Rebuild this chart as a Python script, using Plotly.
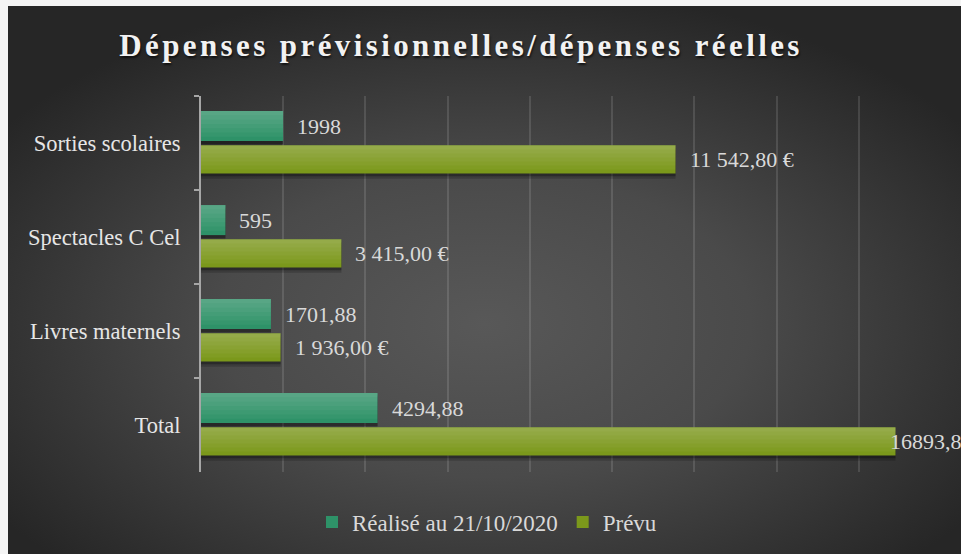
import base64
import plotly.graph_objects as go

# ---------------- data ----------------
categories = ["Sorties scolaires", "Spectacles C Cel", "Livres maternels", "Total"]
realise = [1998, 595, 1701.88, 4294.88]
prevu = [11542.8, 3415.0, 1936.0, 16893.8]
realise_labels = ["1998", "595", "1701,88", "4294,88"]
prevu_labels = ["11 542,80 €", "3 415,00 €", "1 936,00 €", "16893,8"]
series_names = ["Réalisé au 21/10/2020", "Prévu"]
title_text = "Dépenses prévisionnelles/dépenses réelles"

# ---------------- style ----------------
W, H = 961, 554
L, R, T, B = 201, 20, 96, 82
PW, PH = W - L - R, H - T - B
FONT = "Liberation Serif, 'Times New Roman', serif"

styles = [
    dict(color="#2E9268", off=-0.34, w=0.32, lab_shift=12),
    dict(color="#7B981B", off=0.025, w=0.30, lab_shift=12),
]
values = [realise, prevu]
labels = [realise_labels, prevu_labels]

fig = go.Figure()

# soft shadows (two layers)
for vals, st in zip(values, styles):
    for d, a in ((0.055, 0.18), (0.03, 0.28)):
        fig.add_trace(go.Bar(
            y=categories, x=vals, orientation="h",
            offset=st["off"] + d, width=st["w"],
            marker=dict(color=f"rgba(0,0,0,{a})", line=dict(width=0)),
            showlegend=False, hoverinfo="skip"))

# main bars
for vals, st, name in zip(values, styles, series_names):
    fig.add_trace(go.Bar(
        y=categories, x=vals, orientation="h", name=name,
        offset=st["off"], width=st["w"],
        marker=dict(color=st["color"], line=dict(width=0)),
        hoverinfo="skip"))

# gradient highlights (stacked translucent layers from top)
for vals, st in zip(values, styles):
    for j in range(1, 7):
        frac = 1 - j / 7
        fig.add_trace(go.Bar(
            y=categories, x=vals, orientation="h",
            offset=st["off"], width=st["w"] * frac,
            marker=dict(color="rgba(255,255,255,0.04)", line=dict(width=0)),
            showlegend=False, hoverinfo="skip"))

# value labels
annotations = []
for vals, labs, st in zip(values, labels, styles):
    for i, (v, lab) in enumerate(zip(vals, labs)):
        shift = st["lab_shift"]
        if v > 16000:
            shift = -8
        annotations.append(dict(
            x=v, y=i + st["off"] + st["w"] / 2, xref="x", yref="y",
            text=lab, showarrow=False, xanchor="left", yanchor="middle",
            xshift=shift, font=dict(family=FONT, size=22, color="#d9d9d9")))

# background radial gradient
svg = ('<svg xmlns="http://www.w3.org/2000/svg" width="953" height="548" '
       'viewBox="0 0 953 548" preserveAspectRatio="none"><defs>'
       '<radialGradient id="g" cx="0.5" cy="0.58" r="0.62">'
       '<stop offset="0" stop-color="#585858"/>'
       '<stop offset="0.45" stop-color="#4a4a4a"/>'
       '<stop offset="1" stop-color="#262626"/>'
       '</radialGradient></defs>'
       '<rect width="953" height="548" fill="url(#g)"/></svg>')
src = "data:image/svg+xml;base64," + base64.b64encode(svg.encode()).decode()

fig.update_layout(
    width=W, height=H,
    margin=dict(l=L, r=R, t=T, b=B, autoexpand=False),
    paper_bgcolor="#f4f4f4",
    plot_bgcolor="rgba(0,0,0,0)",
    barmode="overlay",
    hovermode=False,
    title=dict(text="<b>" + title_text + "</b>", x=461 / W, xanchor="center",
               y=1 - 45 / H, yanchor="middle",
               font=dict(family=FONT, size=31, color="#f2f2f2",
                         shadow="1px 2px 2px rgba(0,0,0,0.6)")),
    xaxis=dict(range=[0, 18000], tick0=0, dtick=2000, showticklabels=False,
               showgrid=True, gridcolor="rgba(255,255,255,0.12)", gridwidth=1.5,
               zeroline=False, showline=False, ticks=""),
    yaxis=dict(type="category", categoryorder="array", categoryarray=categories,
               range=[3.5, -0.5], showgrid=False, zeroline=False,
               showline=True, linecolor="#a6a6a6", linewidth=2,
               ticks="outside", tickson="boundaries", ticklen=5,
               tickcolor="#a6a6a6", tickwidth=2, ticklabelstandoff=14,
               tickfont=dict(family=FONT, size=22.5, color="#e6e6e6")),
    legend=dict(orientation="h", x=(312 - L) / PW, xanchor="left",
                y=(472 - 522) / PH, yanchor="middle",
                font=dict(family=FONT, size=23, color="#d9d9d9"),
                bgcolor="rgba(0,0,0,0)", itemwidth=30),
    annotations=annotations,
    images=[dict(source=src, xref="paper", yref="paper",
                 x=(8 - L) / PW, y=1 + (T - 6) / PH,
                 sizex=(W - 8) / PW, sizey=(H - 6) / PH,
                 xanchor="left", yanchor="top", sizing="stretch", layer="below")],
)

post = ("document.body.style.margin='0';"
        "function ls(){document.querySelectorAll('.gtitle').forEach(function(e){e.style.letterSpacing='3.4px';});}"
        "ls();setTimeout(ls,0);setTimeout(ls,200);")
fig.write_html("out.html", post_script=post, config={"displayModeBar": False})
